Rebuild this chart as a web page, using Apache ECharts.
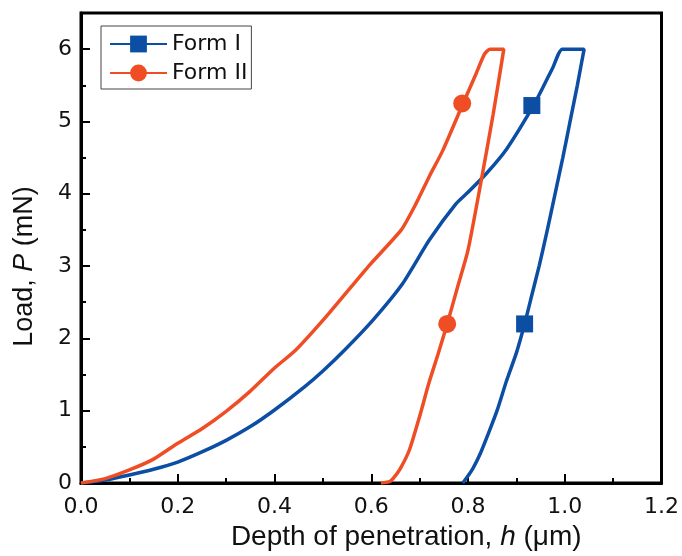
<!DOCTYPE html>
<html>
<head>
<meta charset="utf-8">
<script src="https://cdn.jsdelivr.net/npm/echarts@6/dist/echarts.min.js"></script>
<style>
  html, body { margin: 0; padding: 0; background: #fff; }
  #main { width: 682px; height: 556px; }
</style>
</head>
<body>
<div id="main"></div>
<script>
// Form I: loading + hold + unloading (depth um, load mN)
var formIX = [0, 0.05, 0.1, 0.15, 0.2, 0.25, 0.3, 0.35, 0.4, 0.462, 0.5, 0.545, 0.603, 0.665, 0.72, 0.775, 0.8, 0.838, 0.88, 0.932, 0.954, 0.975, 0.995, 1.04,
              1.026, 1.011, 0.996, 0.98, 0.964, 0.947, 0.932, 0.917, 0.900, 0.879, 0.860, 0.843, 0.825, 0.810, 0.798, 0.789];
var formIY = [0, 0.04, 0.11, 0.19, 0.29, 0.43, 0.59, 0.78, 1.01, 1.33, 1.55, 1.84, 2.25, 2.76, 3.36, 3.86, 4.02, 4.28, 4.62, 5.18, 5.46, 5.74, 6.0, 6.0,
              5.5, 5.0, 4.5, 4.0, 3.5, 3.0, 2.6, 2.2, 1.8, 1.4, 1.0, 0.7, 0.4, 0.2, 0.08, 0];
// Form II
var formIIX = [0, 0.05, 0.1, 0.15, 0.2, 0.25, 0.3, 0.35, 0.4, 0.444, 0.513, 0.596, 0.662, 0.693, 0.72, 0.748, 0.788, 0.816, 0.834, 0.845, 0.874,
               0.852, 0.83, 0.8, 0.778, 0.757, 0.738, 0.719, 0.700, 0.679, 0.66, 0.645, 0.638, 0.62];
var formIIY = [0, 0.06, 0.18, 0.33, 0.55, 0.75, 0.99, 1.27, 1.59, 1.84, 2.35, 3.01, 3.5, 3.87, 4.24, 4.6, 5.22, 5.65, 5.93, 6.0, 6.0,
               5.1, 4.28, 3.22, 2.7, 2.2, 1.78, 1.38, 0.92, 0.46, 0.2, 0.06, 0.02, 0];
// marker positions
var formIMarkX = [0.932, 0.917];
var formIMarkY = [5.22, 2.2];
var formIIMarkX = [0.788, 0.757];
var formIIMarkY = [5.25, 2.2];

var xTicks = [0, 0.2, 0.4, 0.6, 0.8, 1.0, 1.2];
var yTicks = [0, 1, 2, 3, 4, 5, 6];

var blue = '#0c4ea4';
var orange = '#ef4e25';
var font = 'DejaVu Sans';
var titleFont = 'Liberation Sans';

function pairs(xs, ys) {
  return xs.map(function (x, i) { return [x, ys[i]]; });
}

var myChart = echarts.init(document.getElementById('main'));

var option = {
  animation: false,
  backgroundColor: '#fff',
  grid: {
    left: 81, right: 16, top: 13, bottom: 73,
    show: true, borderColor: '#000', borderWidth: 3, backgroundColor: 'transparent'
  },
  legend: {
    orient: 'vertical',
    left: 101, top: 26,
    padding: [7, 4, 5, 8],
    itemGap: 7,
    itemWidth: 57,
    itemHeight: 21,
    borderColor: '#444',
    borderWidth: 1,
    textStyle: { fontFamily: font, fontSize: 22, color: '#111' },
    data: ['Form I', 'Form II']
  },
  xAxis: {
    type: 'value',
    min: 0, max: 1.2, interval: 0.2,
    name: '{n|Depth of penetration, }{i|h}{n| (μm)}',
    nameLocation: 'middle',
    nameGap: 35,
    nameTextStyle: {
      padding: [0, 0, 0, 70],
      rich: {
        n: { fontFamily: titleFont, fontSize: 28, color: '#111' },
        i: { fontFamily: titleFont, fontSize: 28, color: '#111', fontStyle: 'italic' }
      }
    },
    axisLine: { lineStyle: { color: '#000', width: 3 } },
    axisTick: { inside: true, length: 9, lineStyle: { color: '#000', width: 2 } },
    minorTick: { show: true, splitNumber: 2, length: 5, lineStyle: { color: '#000', width: 2 } },
    splitLine: { show: false },
    axisLabel: {
      fontFamily: font, fontSize: 22, color: '#111', margin: 13,
      formatter: function (v) { return xTicks.indexOf(+v.toFixed(1)) >= 0 ? v.toFixed(1) : ''; }
    }
  },
  yAxis: [{
    type: 'value',
    min: 0, max: 6.5, interval: 1,
    name: '{n|Load, }{i|P}{n| (mN)}',
    nameLocation: 'middle',
    nameGap: 43,
    nameTextStyle: {
      padding: [0, 37, 0, 0],
      rich: {
        n: { fontFamily: titleFont, fontSize: 27, color: '#111' },
        i: { fontFamily: titleFont, fontSize: 27, color: '#111', fontStyle: 'italic' }
      }
    },
    axisLine: { lineStyle: { color: '#000', width: 3 } },
    axisTick: { inside: true, length: 9, lineStyle: { color: '#000', width: 2 } },
    splitLine: { show: false },
    axisLabel: {
      fontFamily: font, fontSize: 22, color: '#111', margin: 9,
      formatter: function (v) { return yTicks.indexOf(v) >= 0 ? String(v) : ''; }
    }
  }, {
    // minor ticks every 0.5
    type: 'value',
    position: 'left',
    min: 0, max: 6.5, interval: 0.5,
    axisLine: { show: false },
    axisTick: { inside: true, length: 5, lineStyle: { color: '#000', width: 2 } },
    axisLabel: { show: false },
    splitLine: { show: false }
  }],
  series: [{
    name: 'Form I',
    type: 'line',
    data: pairs(formIX, formIY),
    smooth: 0.2,
    symbol: 'rect',
    symbolSize: 17,
    showSymbol: false,
    lineStyle: { color: blue, width: 3.5 },
    itemStyle: { color: blue },
    z: 3
  }, {
    name: 'Form II',
    type: 'line',
    data: pairs(formIIX, formIIY),
    smooth: 0.2,
    symbol: 'circle',
    symbolSize: 17,
    showSymbol: false,
    lineStyle: { color: orange, width: 3.5 },
    itemStyle: { color: orange },
    z: 3
  }, {
    name: 'Form I',
    type: 'scatter',
    data: pairs(formIMarkX, formIMarkY),
    symbol: 'rect',
    symbolSize: 17,
    itemStyle: { color: blue, opacity: 1 },
    z: 4
  }, {
    name: 'Form II',
    type: 'scatter',
    data: pairs(formIIMarkX, formIIMarkY),
    symbol: 'circle',
    symbolSize: 18,
    itemStyle: { color: orange, opacity: 1 },
    z: 4
  }]
};
myChart.setOption(option);
</script>
</body>
</html>
